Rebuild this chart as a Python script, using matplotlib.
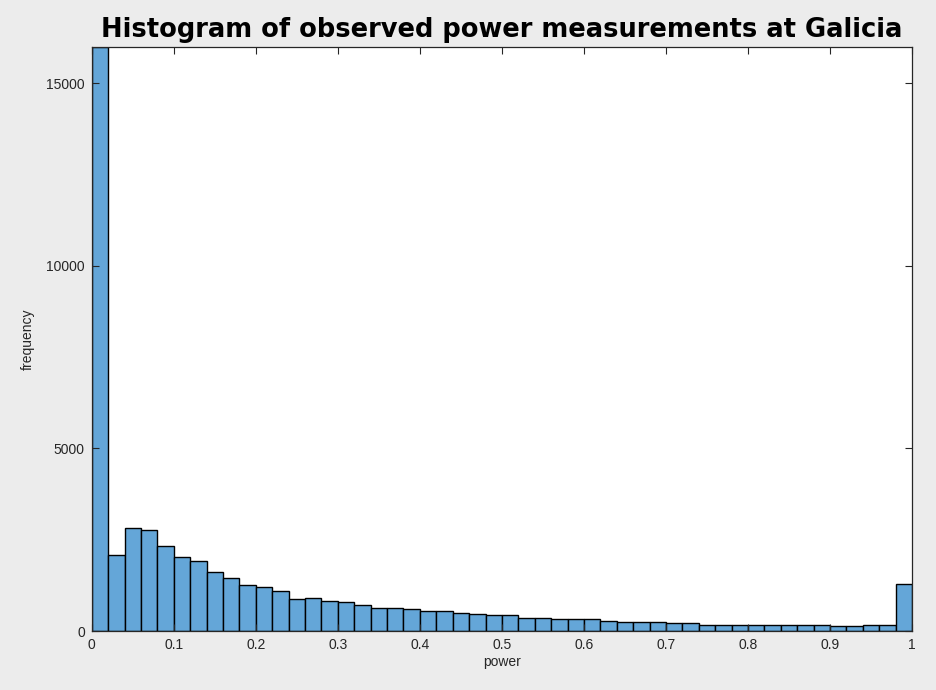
import numpy as np
import matplotlib
matplotlib.use('Agg')
import matplotlib.pyplot as plt

plt.rcParams['font.family'] = ['Liberation Sans', 'DejaVu Sans']

# histogram: 50 bins of width 0.02 between 0 and 1
bin_edges = np.linspace(0, 1, 51)
counts = [16000, 2070, 2810, 2770, 2330, 2030, 1920, 1610, 1440, 1260,
          1210, 1100, 870, 895, 820, 785, 715, 621, 621, 594,
          548, 548, 480, 475, 435, 430, 356, 348, 320, 320,
          320, 274, 238, 238, 238, 210, 210, 164, 164, 164,
          168, 164, 164, 164, 166, 128, 128, 164, 164, 1288]

title = 'Histogram of observed power measurements at Galicia'
x_label = 'power'
y_label = 'frequency'
x_ticks = np.round(np.arange(0, 1.01, 0.1), 1)
x_tick_labels = ['0', '0.1', '0.2', '0.3', '0.4', '0.5', '0.6', '0.7', '0.8', '0.9', '1']
y_ticks = [0, 5000, 10000, 15000]

axis_col = '#262626'

fig = plt.figure(figsize=(9.36, 6.9), dpi=100)
fig.patch.set_facecolor('#ececec')
ax = fig.add_axes([0.098, 0.0855, 0.8765, 0.8465])
ax.set_facecolor('white')

ax.bar(bin_edges[:-1], counts, width=np.diff(bin_edges), align='edge',
       color='#64a6d8', edgecolor='black', linewidth=1.0)

ax.set_xlim(0, 1)
ax.set_ylim(0, 16000)
ax.set_xticks(x_ticks)
ax.set_xticklabels(x_tick_labels)
ax.set_yticks(y_ticks)

ax.tick_params(direction='in', length=5, width=0.8, colors=axis_col,
               labelsize=10, top=True, right=True, pad=5)
for s in ax.spines.values():
    s.set_color(axis_col)
    s.set_linewidth(0.9)

ax.set_xlabel(x_label, fontsize=10, color=axis_col, labelpad=2)
ax.set_ylabel(y_label, fontsize=10, color=axis_col, labelpad=8)
ax.set_title(title, fontsize=18.5, fontweight='bold', color='black', pad=7,
             family=['DejaVu Sans'])

fig.savefig('out.png', dpi=100, facecolor=fig.get_facecolor())
